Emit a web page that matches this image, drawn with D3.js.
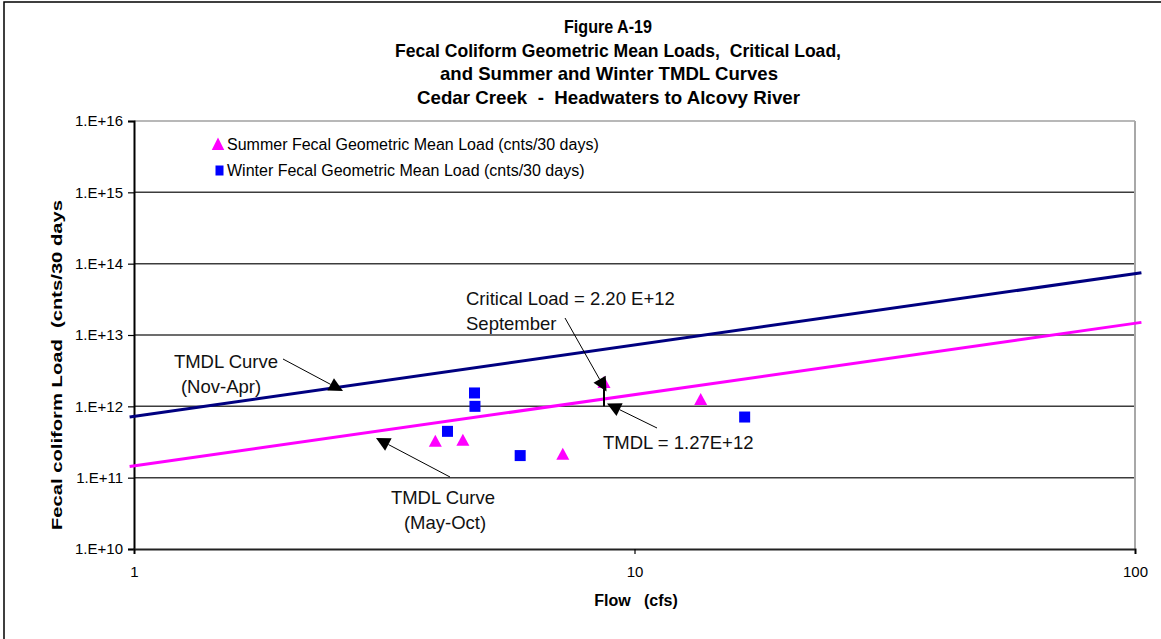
<!DOCTYPE html>
<html>
<head>
<meta charset="utf-8">
<script src="https://cdn.jsdelivr.net/npm/d3@7"></script>
<style>
  html, body { margin: 0; padding: 0; background: #fff; }
  svg { display: block; font-family: "Liberation Sans", Arial, sans-serif; }
  text { white-space: pre; }
</style>
</head>
<body>
<svg id="chart" width="1161" height="639"></svg>
<script>
// Summer (May-Oct) fecal geometric mean loads: flow (cfs), load (cnts/30 days)
const summerFlow = [4.0, 4.54, 7.19, 8.69, 13.56];
const summerLoad = [3.3e11, 3.4e11, 2.17e11, 2.2e12, 1.27e12];

// Winter (Nov-Apr) fecal geometric mean loads
const winterFlow = [4.23, 4.79, 4.80, 5.91, 16.6];
const winterLoad = [4.46e11, 1.54e12, 1.0e12, 2.04e11, 7.08e11];

// TMDL curves: load = coefficient x flow
const curveFlow = [0.98, 103];
const winterTmdlPerCfs = 7.24e11;
const summerTmdlPerCfs = 1.46e11;

// Critical condition (September)
const criticalFlow = 8.69;
const criticalLoad = 2.2e12;
const criticalTmdl = 1.27e12;
const dropLoads = [criticalLoad, 1.0e12];

// Axis ticks
const yTicks = [1e10, 1e11, 1e12, 1e13, 1e14, 1e15, 1e16];
const yTickLabels = ["1.E+10", "1.E+11", "1.E+12", "1.E+13", "1.E+14", "1.E+15", "1.E+16"];
const xTicks = [1, 10, 100];
const xTickLabels = ["1", "10", "100"];

const titleLines = [
  "Figure A-19",
  "Fecal Coliform Geometric Mean Loads,  Critical Load,",
  "and Summer and Winter TMDL Curves",
  "Cedar Creek  -  Headwaters to Alcovy River"
];
const legendLabels = [
  "Summer Fecal Geometric Mean Load (cnts/30 days)",
  "Winter Fecal Geometric Mean Load (cnts/30 days)"
];

const svg = d3.select("#chart");
const x = d3.scaleLog().domain([1, 100]).range([134, 1135]);
const y = d3.scaleLog().domain([1e10, 1e16]).range([549, 121]);

// outer frame
svg.append("rect").attr("x", 4).attr("y", 2).attr("width", 1200).attr("height", 700)
  .attr("fill", "none").attr("stroke", "#000").attr("stroke-width", 1.5);

// title (narrow bold face)
const titleLayout = [
  { x: 564, w: 88 },
  { x: 395, w: 446 },
  { x: 440, w: 338 },
  { x: 417, w: 383 }
];
svg.append("g").selectAll("text").data(titleLines).join("text")
  .attr("x", (d, i) => titleLayout[i].x).attr("y", (d, i) => 33 + i * 23.5)
  .attr("textLength", (d, i) => titleLayout[i].w).attr("lengthAdjust", "spacingAndGlyphs")
  .attr("font-weight", "bold").attr("font-size", 19)
  .text(d => d);

// horizontal gridlines
svg.append("g").selectAll("line").data(yTicks.slice(1, -1)).join("line")
  .attr("x1", x(1)).attr("x2", x(100)).attr("y1", d => y(d)).attr("y2", d => y(d))
  .attr("stroke", "#3c3c3c").attr("stroke-width", 1.5);

// plot area border (top, right)
svg.append("line").attr("x1", x(1)).attr("x2", x(100)).attr("y1", y(1e16)).attr("y2", y(1e16))
  .attr("stroke", "#a0a0a0").attr("stroke-width", 1.5);
svg.append("line").attr("x1", x(100)).attr("x2", x(100)).attr("y1", y(1e16)).attr("y2", y(1e10))
  .attr("stroke", "#a8a8a8").attr("stroke-width", 2);

// axes
const yAxis = d3.axisLeft(y).tickValues(yTicks).tickSize(6).tickPadding(5)
  .tickFormat((d, i) => yTickLabels[i]);
const gy = svg.append("g").attr("transform", `translate(${x(1)},0)`).call(yAxis);
gy.select(".domain").attr("stroke", "#000").attr("stroke-width", 2);
gy.selectAll(".tick line").attr("stroke", "#000").attr("stroke-width", 1.2);
gy.selectAll(".tick text").attr("font-size", 15).attr("fill", "#000")
  .attr("font-family", "Liberation Sans, Arial, sans-serif");

const xAxis = d3.axisBottom(x).tickValues(xTicks).tickSize(5).tickPadding(12)
  .tickFormat((d, i) => xTickLabels[i]);
const gx = svg.append("g").attr("transform", `translate(0,${y(1e10)})`).call(xAxis);
gx.select(".domain").attr("stroke", "#222").attr("stroke-width", 2);
gx.selectAll(".tick line").attr("stroke", "#000").attr("stroke-width", 1.2);
gx.selectAll(".tick text").attr("font-size", 15).attr("fill", "#000")
  .attr("font-family", "Liberation Sans, Arial, sans-serif");

// axis titles
svg.append("text").attr("x", 636).attr("y", 606).attr("text-anchor", "middle")
  .attr("font-weight", "bold").attr("font-size", 16)
  .text("Flow   (cfs)");
svg.append("text").attr("transform", "translate(62,530) rotate(-90)")
  .attr("textLength", 330).attr("lengthAdjust", "spacingAndGlyphs")
  .attr("font-weight", "bold").attr("font-size", 15.5)
  .text("Fecal coliform Load  (cnts/30 days");

// TMDL curves
const line = d3.line().x(d => x(d[0])).y(d => y(d[1]));
svg.append("path")
  .attr("d", line(curveFlow.map(f => [f, f * winterTmdlPerCfs])))
  .attr("fill", "none").attr("stroke", "#000080").attr("stroke-width", 3);
svg.append("path")
  .attr("d", line(curveFlow.map(f => [f, f * summerTmdlPerCfs])))
  .attr("fill", "none").attr("stroke", "#ff00ff").attr("stroke-width", 3);

// marker shapes
const tri = (cx, cy, w, h) => `M${cx},${cy - h / 2}L${cx + w / 2},${cy + h / 2}L${cx - w / 2},${cy + h / 2}Z`;

svg.append("g").selectAll("path").data(summerFlow.map((f, i) => [f, summerLoad[i]])).join("path")
  .attr("d", d => tri(x(d[0]), y(d[1]), 13, 12)).attr("fill", "#ff00ff");
svg.append("g").selectAll("rect").data(winterFlow.map((f, i) => [f, winterLoad[i]])).join("rect")
  .attr("x", d => x(d[0]) - 5.5).attr("y", d => y(d[1]) - 5.5)
  .attr("width", 11).attr("height", 11).attr("fill", "#0000ff");

// drop line at the critical flow
svg.append("line")
  .attr("x1", x(criticalFlow)).attr("x2", x(criticalFlow))
  .attr("y1", y(dropLoads[0])).attr("y2", y(dropLoads[1]))
  .attr("stroke", "#000").attr("stroke-width", 2);

// legend
const legend = svg.append("g");
legend.append("path").attr("d", tri(218, 143.7, 12.5, 12.5)).attr("fill", "#ff00ff");
legend.append("rect").attr("x", 215.5).attr("y", 165.5).attr("width", 8).attr("height", 10).attr("fill", "#0000ff");
legend.selectAll("text").data(legendLabels).join("text")
  .attr("x", 227).attr("y", (d, i) => 149.5 + i * 26.5)
  .attr("font-size", 16).text(d => d);

// annotations: callout arrows and their labels
function arrow(x0, y0, x1, y1) {
  const dx = x1 - x0, dy = y1 - y0, len = Math.hypot(dx, dy);
  const ux = dx / len, uy = dy / len, hl = 14, hw = 7;
  const bx = x1 - ux * hl, by = y1 - uy * hl;
  svg.append("line").attr("x1", x0).attr("y1", y0).attr("x2", bx).attr("y2", by)
    .attr("stroke", "#000").attr("stroke-width", 1);
  svg.append("path")
    .attr("d", `M${x1},${y1}L${bx - uy * hw},${by + ux * hw}L${bx + uy * hw},${by - ux * hw}Z`)
    .attr("fill", "#000");
}
arrow(283, 359, 343, 391);
arrow(450, 477, 376, 438);
arrow(565, 318, 606.5, 391.5);
arrow(657, 428, 607, 403.5);

const notes = [
  { t: "TMDL Curve", x: 226, y: 368, a: "middle" },
  { t: "(Nov-Apr)", x: 221, y: 393, a: "middle" },
  { t: "TMDL Curve", x: 443, y: 504, a: "middle" },
  { t: "(May-Oct)", x: 445, y: 529, a: "middle" },
  { t: "Critical Load = 2.20 E+12", x: 466, y: 305, a: "start" },
  { t: "September", x: 466, y: 330, a: "start" },
  { t: "TMDL = 1.27E+12", x: 603, y: 449, a: "start" }
];
svg.append("g").selectAll("text").data(notes).join("text")
  .attr("x", d => d.x).attr("y", d => d.y).attr("text-anchor", d => d.a)
  .attr("font-size", 18.5).attr("fill", "#111").text(d => d.t);
</script>
</body>
</html>
